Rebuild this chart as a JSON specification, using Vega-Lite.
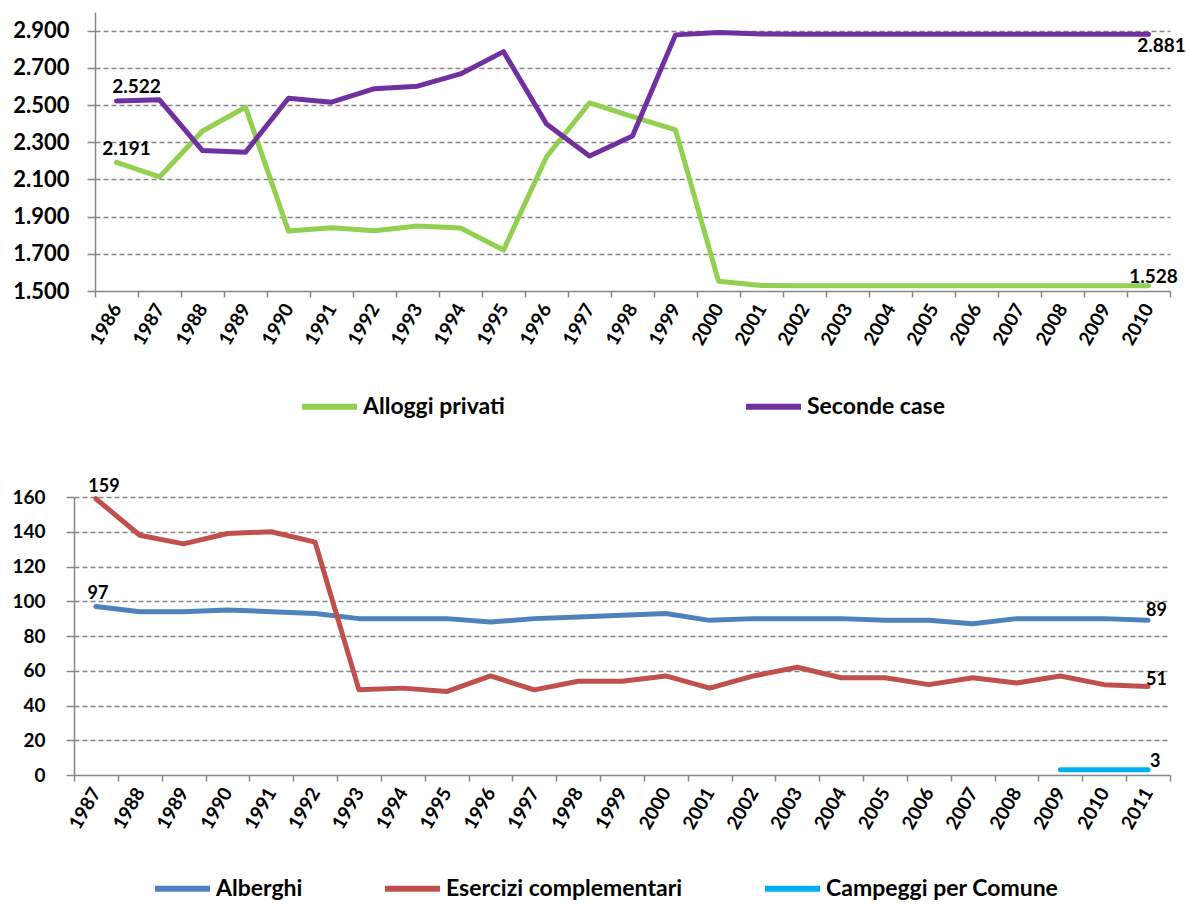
{
  "$schema": "https://vega.github.io/schema/vega-lite/v6.json",
  "background": "white",
  "padding": {"left": 11, "top": 12, "right": 5, "bottom": 0},
  "spacing": 58,
  "resolve": {"scale": {"color": "independent", "x": "independent", "y": "independent"}},
  "config": {
    "font": "Lato",
    "view": {"stroke": null},
    "axis": {"domainColor": "#868686", "domainWidth": 1.5, "tickColor": "#868686", "tickWidth": 1.5, "labelColor": "#000000", "labelFont": "Lato", "labelFontWeight": "bold", "title": null},
    "text": {"font": "Lato", "fontWeight": "bold", "color": "#000000"}
  },
  "datasets": {
    "top": [
      {"year": 1986, "series": "Alloggi privati", "value": 2191},
      {"year": 1987, "series": "Alloggi privati", "value": 2113},
      {"year": 1988, "series": "Alloggi privati", "value": 2360},
      {"year": 1989, "series": "Alloggi privati", "value": 2488},
      {"year": 1990, "series": "Alloggi privati", "value": 1822},
      {"year": 1991, "series": "Alloggi privati", "value": 1840},
      {"year": 1992, "series": "Alloggi privati", "value": 1824},
      {"year": 1993, "series": "Alloggi privati", "value": 1849},
      {"year": 1994, "series": "Alloggi privati", "value": 1839},
      {"year": 1995, "series": "Alloggi privati", "value": 1720},
      {"year": 1996, "series": "Alloggi privati", "value": 2222},
      {"year": 1997, "series": "Alloggi privati", "value": 2511},
      {"year": 1998, "series": "Alloggi privati", "value": 2437},
      {"year": 1999, "series": "Alloggi privati", "value": 2366},
      {"year": 2000, "series": "Alloggi privati", "value": 1553},
      {"year": 2001, "series": "Alloggi privati", "value": 1529},
      {"year": 2002, "series": "Alloggi privati", "value": 1528},
      {"year": 2003, "series": "Alloggi privati", "value": 1528},
      {"year": 2004, "series": "Alloggi privati", "value": 1528},
      {"year": 2005, "series": "Alloggi privati", "value": 1528},
      {"year": 2006, "series": "Alloggi privati", "value": 1528},
      {"year": 2007, "series": "Alloggi privati", "value": 1528},
      {"year": 2008, "series": "Alloggi privati", "value": 1528},
      {"year": 2009, "series": "Alloggi privati", "value": 1528},
      {"year": 2010, "series": "Alloggi privati", "value": 1528},
      {"year": 1986, "series": "Seconde case", "value": 2522},
      {"year": 1987, "series": "Seconde case", "value": 2528},
      {"year": 1988, "series": "Seconde case", "value": 2255},
      {"year": 1989, "series": "Seconde case", "value": 2246},
      {"year": 1990, "series": "Seconde case", "value": 2536},
      {"year": 1991, "series": "Seconde case", "value": 2515},
      {"year": 1992, "series": "Seconde case", "value": 2588},
      {"year": 1993, "series": "Seconde case", "value": 2601},
      {"year": 1994, "series": "Seconde case", "value": 2667},
      {"year": 1995, "series": "Seconde case", "value": 2787},
      {"year": 1996, "series": "Seconde case", "value": 2398},
      {"year": 1997, "series": "Seconde case", "value": 2226},
      {"year": 1998, "series": "Seconde case", "value": 2333},
      {"year": 1999, "series": "Seconde case", "value": 2877},
      {"year": 2000, "series": "Seconde case", "value": 2890},
      {"year": 2001, "series": "Seconde case", "value": 2882},
      {"year": 2002, "series": "Seconde case", "value": 2881},
      {"year": 2003, "series": "Seconde case", "value": 2881},
      {"year": 2004, "series": "Seconde case", "value": 2881},
      {"year": 2005, "series": "Seconde case", "value": 2881},
      {"year": 2006, "series": "Seconde case", "value": 2881},
      {"year": 2007, "series": "Seconde case", "value": 2881},
      {"year": 2008, "series": "Seconde case", "value": 2881},
      {"year": 2009, "series": "Seconde case", "value": 2881},
      {"year": 2010, "series": "Seconde case", "value": 2881}
    ],
    "bottom": [
      {"year": 1987, "series": "Alberghi", "value": 97},
      {"year": 1988, "series": "Alberghi", "value": 94},
      {"year": 1989, "series": "Alberghi", "value": 94},
      {"year": 1990, "series": "Alberghi", "value": 95},
      {"year": 1991, "series": "Alberghi", "value": 94},
      {"year": 1992, "series": "Alberghi", "value": 93},
      {"year": 1993, "series": "Alberghi", "value": 90},
      {"year": 1994, "series": "Alberghi", "value": 90},
      {"year": 1995, "series": "Alberghi", "value": 90},
      {"year": 1996, "series": "Alberghi", "value": 88},
      {"year": 1997, "series": "Alberghi", "value": 90},
      {"year": 1998, "series": "Alberghi", "value": 91},
      {"year": 1999, "series": "Alberghi", "value": 92},
      {"year": 2000, "series": "Alberghi", "value": 93},
      {"year": 2001, "series": "Alberghi", "value": 89},
      {"year": 2002, "series": "Alberghi", "value": 90},
      {"year": 2003, "series": "Alberghi", "value": 90},
      {"year": 2004, "series": "Alberghi", "value": 90},
      {"year": 2005, "series": "Alberghi", "value": 89},
      {"year": 2006, "series": "Alberghi", "value": 89},
      {"year": 2007, "series": "Alberghi", "value": 87},
      {"year": 2008, "series": "Alberghi", "value": 90},
      {"year": 2009, "series": "Alberghi", "value": 90},
      {"year": 2010, "series": "Alberghi", "value": 90},
      {"year": 2011, "series": "Alberghi", "value": 89},
      {"year": 1987, "series": "Esercizi complementari", "value": 159},
      {"year": 1988, "series": "Esercizi complementari", "value": 138},
      {"year": 1989, "series": "Esercizi complementari", "value": 133},
      {"year": 1990, "series": "Esercizi complementari", "value": 139},
      {"year": 1991, "series": "Esercizi complementari", "value": 140},
      {"year": 1992, "series": "Esercizi complementari", "value": 134},
      {"year": 1993, "series": "Esercizi complementari", "value": 49},
      {"year": 1994, "series": "Esercizi complementari", "value": 50},
      {"year": 1995, "series": "Esercizi complementari", "value": 48},
      {"year": 1996, "series": "Esercizi complementari", "value": 57},
      {"year": 1997, "series": "Esercizi complementari", "value": 49},
      {"year": 1998, "series": "Esercizi complementari", "value": 54},
      {"year": 1999, "series": "Esercizi complementari", "value": 54},
      {"year": 2000, "series": "Esercizi complementari", "value": 57},
      {"year": 2001, "series": "Esercizi complementari", "value": 50},
      {"year": 2002, "series": "Esercizi complementari", "value": 57},
      {"year": 2003, "series": "Esercizi complementari", "value": 62},
      {"year": 2004, "series": "Esercizi complementari", "value": 56},
      {"year": 2005, "series": "Esercizi complementari", "value": 56},
      {"year": 2006, "series": "Esercizi complementari", "value": 52},
      {"year": 2007, "series": "Esercizi complementari", "value": 56},
      {"year": 2008, "series": "Esercizi complementari", "value": 53},
      {"year": 2009, "series": "Esercizi complementari", "value": 57},
      {"year": 2010, "series": "Esercizi complementari", "value": 52},
      {"year": 2011, "series": "Esercizi complementari", "value": 51},
      {"year": 2009, "series": "Campeggi per Comune", "value": 3},
      {"year": 2010, "series": "Campeggi per Comune", "value": 3},
      {"year": 2011, "series": "Campeggi per Comune", "value": 3}
    ]
  },
  "vconcat": [
    {
      "width": 1075,
      "height": 279,
      "data": {"name": "top"},
      "transform": [{"calculate": "replace(format(datum.value, ','), ',', '.')", "as": "lbl"}],
      "encoding": {
        "x": {"field": "year", "type": "ordinal", "scale": {"type": "band", "paddingInner": 0, "paddingOuter": 0},
          "axis": {"tickBand": "extent", "labelAngle": -60, "labelFontSize": 19, "tickSize": 6, "labelPadding": 8, "grid": false}},
        "y": {"field": "value", "type": "quantitative", "scale": {"domain": [1500, 3000], "nice": false, "zero": false},
          "axis": {"values": [1500, 1700, 1900, 2100, 2300, 2500, 2700, 2900], "labelExpr": "replace(format(datum.value, ','), ',', '.')", "labelFontSize": 22, "labelPadding": 18, "tickSize": 8, "grid": true, "gridColor": "#868686", "gridDash": [5, 3], "gridWidth": 1.5, "gridOpacity": {"condition": {"test": "datum.value == 1500", "value": 0}, "value": 1}}}
      },
      "layer": [
        {
          "mark": {"type": "line", "strokeWidth": 5, "strokeCap": "round", "strokeJoin": "round"},
          "encoding": {
            "color": {"field": "series", "type": "nominal", "scale": {"domain": ["Alloggi privati", "Seconde case"], "range": ["#92D050", "#7030A0"]},
              "legend": {"orient": "none", "legendX": 204, "legendY": 364, "direction": "horizontal", "title": null, "symbolType": "stroke", "symbolSize": 3025, "symbolStrokeWidth": 6, "labelFontSize": 23, "labelFontWeight": "bold", "labelFont": "Lato", "labelColor": "#000000", "columnPadding": 229, "labelOffset": 3, "padding": 0, "labelLimit": 400}}
          }
        },
        {"transform": [{"filter": "datum.series == 'Alloggi privati' && datum.year == 1986"}], "mark": {"type": "text", "fontSize": 19, "dx": 10, "dy": -7, "baseline": "alphabetic"}, "encoding": {"text": {"field": "lbl"}}},
        {"transform": [{"filter": "datum.series == 'Seconde case' && datum.year == 1986"}], "mark": {"type": "text", "fontSize": 19, "dx": 20, "dy": -8, "baseline": "alphabetic"}, "encoding": {"text": {"field": "lbl"}}},
        {"transform": [{"filter": "datum.series == 'Seconde case' && datum.year == 2010"}], "mark": {"type": "text", "fontSize": 19, "dx": 13, "dy": 18, "baseline": "alphabetic"}, "encoding": {"text": {"field": "lbl"}}},
        {"transform": [{"filter": "datum.series == 'Alloggi privati' && datum.year == 2010"}], "mark": {"type": "text", "fontSize": 19, "dx": 5, "dy": -3, "baseline": "alphabetic"}, "encoding": {"text": {"field": "lbl"}}}
      ]
    },
    {
      "width": 1075,
      "height": 278,
      "data": {"name": "bottom"},
      "transform": [{"calculate": "format(datum.value, 'd')", "as": "lbl"}],
      "encoding": {
        "x": {"field": "year", "type": "ordinal", "scale": {"type": "band", "paddingInner": 0, "paddingOuter": 0, "range": [-21, 1075]},
          "axis": {"tickBand": "extent", "labelAngle": -60, "labelFontSize": 19, "tickSize": 6, "labelPadding": 8, "grid": false}},
        "y": {"field": "value", "type": "quantitative", "scale": {"domain": [0, 160], "nice": false},
          "axis": {"offset": 21, "values": [0, 20, 40, 60, 80, 100, 120, 140, 160], "labelFontSize": 19, "labelPadding": 21, "tickSize": 8, "grid": true, "gridColor": "#868686", "gridDash": [5, 3], "gridWidth": 1.5, "gridOpacity": {"condition": {"test": "datum.value == 0", "value": 0}, "value": 1}}}
      },
      "layer": [
        {
          "mark": {"type": "line", "strokeWidth": 5, "strokeCap": "round", "strokeJoin": "round"},
          "encoding": {
            "color": {"field": "series", "type": "nominal", "scale": {"domain": ["Alberghi", "Esercizi complementari", "Campeggi per Comune"], "range": ["#4F81BD", "#C0504D", "#00B0F0"]},
              "legend": {"orient": "none", "legendX": 57, "legendY": 361, "direction": "horizontal", "title": null, "symbolType": "stroke", "symbolSize": 3025, "symbolStrokeWidth": 6, "labelFontSize": 23, "labelFontWeight": "bold", "labelFont": "Lato", "labelColor": "#000000", "columnPadding": 70, "labelOffset": 3, "padding": 0, "labelLimit": 400}}
          }
        },
        {"transform": [{"filter": "datum.series == 'Esercizi complementari' && datum.year == 1987"}], "mark": {"type": "text", "fontSize": 18, "dx": 8, "dy": -7, "baseline": "alphabetic"}, "encoding": {"text": {"field": "lbl"}}},
        {"transform": [{"filter": "datum.series == 'Alberghi' && datum.year == 1987"}], "mark": {"type": "text", "fontSize": 18, "dx": 2, "dy": -7, "baseline": "alphabetic"}, "encoding": {"text": {"field": "lbl"}}},
        {"transform": [{"filter": "datum.series == 'Alberghi' && datum.year == 2011"}], "mark": {"type": "text", "fontSize": 18, "dx": -2, "dy": -4, "align": "left", "baseline": "alphabetic"}, "encoding": {"text": {"field": "lbl"}}},
        {"transform": [{"filter": "datum.series == 'Esercizi complementari' && datum.year == 2011"}], "mark": {"type": "text", "fontSize": 18, "dx": -2, "dy": -1, "align": "left", "baseline": "alphabetic"}, "encoding": {"text": {"field": "lbl"}}},
        {"transform": [{"filter": "datum.series == 'Campeggi per Comune' && datum.year == 2011"}], "mark": {"type": "text", "fontSize": 18, "dx": 2, "dy": -3, "align": "left", "baseline": "alphabetic"}, "encoding": {"text": {"field": "lbl"}}}
      ]
    }
  ]
}
